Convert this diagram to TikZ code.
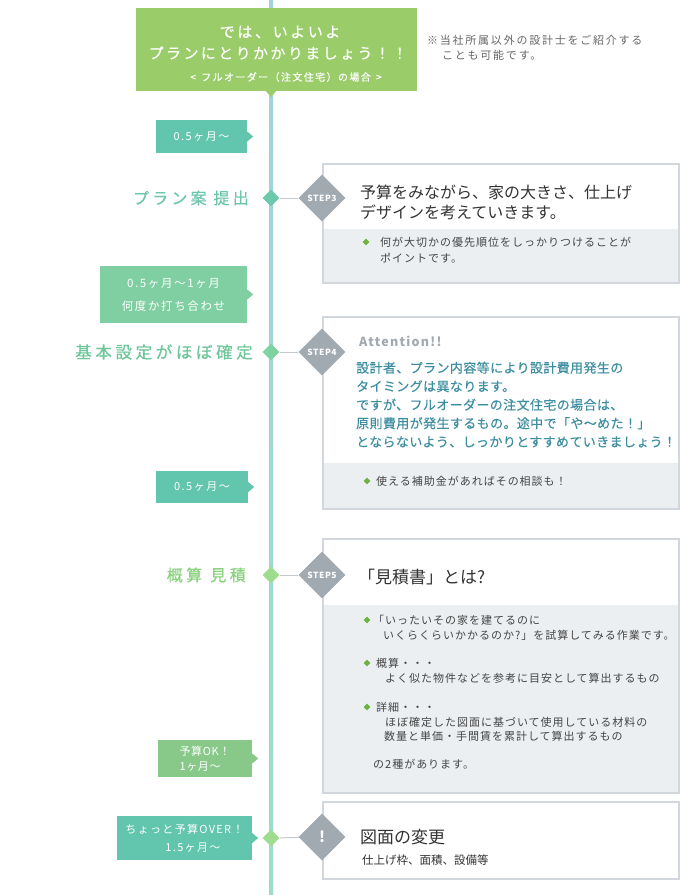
\documentclass[tikz,border=0pt]{standalone}
\usepackage{fontspec}
\setmainfont{Noto Sans CJK JP}
\usetikzlibrary{shapes.geometric}
\definecolor{hdrgreen}{HTML}{9ACD6A}
\definecolor{tagteal}{HTML}{62C5AD}
\definecolor{taggreen}{HTML}{80CFA2}
\definecolor{tagok}{HTML}{88C98A}
\definecolor{lblteal}{HTML}{6CC6AA}
\definecolor{lblgreen}{HTML}{6DC799}
\definecolor{lbllight}{HTML}{8AD27E}
\definecolor{dteal}{HTML}{6CC9AB}
\definecolor{dgreen}{HTML}{7FD3A0}
\definecolor{dlight}{HTML}{9EDC8F}
\definecolor{stepgray}{HTML}{A1A9B1}
\definecolor{boxgray}{HTML}{D2D7DD}
\definecolor{boxfill}{HTML}{ECEFF2}
\definecolor{conngray}{HTML}{C5CAD0}
\definecolor{attcol}{HTML}{3D8EA0}
\definecolor{darktext}{HTML}{333333}
\definecolor{bodytext}{HTML}{444444}
\definecolor{notetext}{HTML}{666666}
\definecolor{bulgreen}{HTML}{6CB43F}
\definecolor{lineblue}{HTML}{A3D3DE}
\definecolor{linegreen}{HTML}{A0DCC5}
\tikzset{
  lbl/.style={anchor=east, inner sep=0},
  tagbox/.style={inner sep=0, text=white, align=center},
  tagfont/.style={font=\fontsize{11}{14}\selectfont\addfontfeature{LetterSpace=14}},
  tdia/.style={diamond, inner sep=0, minimum width=17, minimum height=17},
  sdia/.style={diamond, inner sep=0, minimum width=47, minimum height=47, fill=stepgray,
     label={[text=white, font=\bfseries\fontsize{8.5}{10}\selectfont\addfontfeature{LetterSpace=6}]center:#1}},
  bul/.style={diamond, inner sep=0, minimum width=7, minimum height=7, fill=bulgreen},
  conn/.style={draw=conngray, line width=1},
  boxline/.style={draw=boxgray, line width=2, inner sep=0, anchor=north west},
  txt/.style={anchor=west, inner sep=0},
  big/.style={font=\fontsize{16}{20}\selectfont, text=darktext},
  small/.style={font=\fontsize{11}{14}\selectfont\addfontfeature{LetterSpace=9}, text=bodytext},
}
\begin{document}
\begin{tikzpicture}[x=1pt,y=-1pt]
\useasboundingbox (0,0) rectangle (680,895);
\fill[white] (0,0) rectangle (680,895);
% timeline
\coordinate (tltop) at (269,0);
\coordinate (tlbot) at (273,895);
\fill[top color=lineblue, bottom color=linegreen] (tltop) rectangle (tlbot);

% header
\node[fill=hdrgreen, minimum width=281, minimum height=83, inner sep=0] (hdr) at (276.5,49.5) {};
\fill[hdrgreen] (265,90) -- (277,90) -- (271,97) -- cycle;
\node[text=white, inner sep=0, font=\fontsize{15}{18}\selectfont\addfontfeature{LetterSpace=18,FakeBold=0.4}] (h1) at (280,32) {では、いよいよ};
\node[text=white, inner sep=0, font=\fontsize{15}{18}\selectfont\addfontfeature{LetterSpace=16,FakeBold=0.4}] (h2) at (278,53) {プランにとりかかりましょう！！};
\node[text=white, inner sep=0, font=\fontsize{10}{12}\selectfont\addfontfeature{LetterSpace=14,FakeBold=0.3}] (h3) at (286,77) {<\, フルオーダー（注文住宅）の場合 \,>};

% note
\node[txt, text=notetext, font=\fontsize{11}{14}\selectfont\addfontfeature{LetterSpace=16}] (n1) at (427,40) {※当社所属以外の設計士をご紹介する};
\node[txt, text=notetext, font=\fontsize{11}{14}\selectfont\addfontfeature{LetterSpace=16}] (n2) at (442,55) {ことも可能です。};

% tags
\node[tagbox, tagfont, fill=tagteal, minimum width=91, minimum height=33] (t1) at (201.5,136.5) {0.5ヶ月～};
\fill[tagteal] (t1.east) ++(0,-5) -- ++(6,5) -- ++(-6,5) -- cycle;
\node[tagbox, fill=taggreen, minimum width=147, minimum height=57, font=\fontsize{11.5}{23}\selectfont\addfontfeature{LetterSpace=14}] (t2) at (173.5,294.5) {0.5ヶ月～1ヶ月\\何度か打ち合わせ};
\fill[taggreen] (t2.east) ++(0,-5) -- ++(6,5) -- ++(-6,5) -- cycle;
\node[tagbox, tagfont, fill=tagteal, minimum width=92, minimum height=32] (t3) at (202,487) {0.5ヶ月～};
\fill[tagteal] (t3.east) ++(0,-5) -- ++(6,5) -- ++(-6,5) -- cycle;
\node[tagbox, align=left, fill=tagok, minimum width=94, minimum height=37, font=\fontsize{11}{15}\selectfont\addfontfeature{LetterSpace=6}] (t4) at (205,758.5) {予算OK！\\1ヶ月～};
\fill[tagok] (t4.east) ++(0,-5) -- ++(6,5) -- ++(-6,5) -- cycle;
\node[tagbox, align=left, fill=tagteal, minimum width=135, minimum height=44, font=\fontsize{11}{18}\selectfont\addfontfeature{LetterSpace=12}] (t5) at (184.5,838) {ちょっと予算OVER！\\\hspace*{40pt}1.5ヶ月～};
\fill[tagteal] (t5.east) ++(0,-5) -- ++(6,5) -- ++(-6,5) -- cycle;

% labels
\node[lbl, text=lblteal, font=\fontsize{16}{19}\selectfont\addfontfeature{LetterSpace=20,FakeBold=0.5}] (l3) at (249,198) {プラン案\hspace{7pt}提出};
\node[lbl, text=lblgreen, font=\fontsize{16.5}{19}\selectfont\addfontfeature{LetterSpace=22,FakeBold=0.5}] (l4) at (253,352) {基本設定がほぼ確定};
\node[lbl, text=lbllight, font=\fontsize{16}{19}\selectfont\addfontfeature{LetterSpace=22,FakeBold=0.5}] (l5) at (246,575) {概算\hspace{8pt}見積};

% step 3 box
\fill[boxfill] (322,229) rectangle (678,282);
\node[boxline, minimum width=356, minimum height=119] (b3) at (322,163) {};
% step 4 box
\fill[boxfill] (322,463) rectangle (678,508);
\node[boxline, minimum width=356, minimum height=192] (b4) at (322,316) {};
% step 5 box
\fill[boxfill] (322,605) rectangle (678,792);
\node[boxline, minimum width=356, minimum height=254] (b5) at (322,538) {};
% change box
\node[boxline, minimum width=356, minimum height=77] (b6) at (322,801) {};

% timeline diamonds and step diamonds
\node[tdia, fill=dteal] (d3) at (271,198) {};
\node[tdia, fill=dgreen] (d4) at (271,352) {};
\node[tdia, fill=dlight] (d5) at (271,575) {};
\node[tdia, fill=dlight] (d6) at (271,838) {};
\node[sdia=STEP3] (s3) at (322,198) {};
\node[sdia=STEP4] (s4) at (322,352) {};
\node[sdia=STEP5] (s5) at (322,575) {};
\node[diamond, inner sep=0, minimum width=47, minimum height=47, fill=stepgray,
  label={[text=white, font=\bfseries\fontsize{15}{18}\selectfont]center:!}] (s6) at (322,837) {};
\draw[conn] (d3) -- (s3);
\draw[conn] (d4) -- (s4);
\draw[conn] (d5) -- (s5);
\draw[conn] (d6) -- (s6);

% step 3 text
\node[txt, big] (s3a) at (360,192) {予算をみながら、家の大きさ、仕上げ};
\node[txt, big] (s3b) at (360,212) {デザインを考えていきます。};
\node[bul] (bu1) at (366,242) {};
\node[txt, small] (s3c) at (380,242) {何が大切かの優先順位をしっかりつけることが};
\node[txt, small] (s3d) at (380,258) {ポイントです。};

% step 4 text
\node[txt, text=stepgray, font=\bfseries\fontsize{12.5}{14}\selectfont\addfontfeature{LetterSpace=10}] (att) at (359,341) {Attention!!};
\node[anchor=north west, inner sep=0, align=left, text=attcol, font=\fontsize{13}{18.5}\selectfont\addfontfeature{LetterSpace=3,FakeBold=0.2}] (s4p) at (356,361.5)
 {設計者、プラン内容等により設計費用発生の\\タイミングは異なります。\\ですが、フルオーダーの注文住宅の場合は、\\原則費用が発生するもの。途中で「や～めた！」\\とならないよう、しっかりとすすめていきましょう！};
\node[bul] (bu2) at (367,481) {};
\node[txt, small] (s4b) at (376,481) {使える補助金があればその相談も！};

% step 5 text
\node[txt, font=\fontsize{17}{20}\selectfont, text=darktext] (s5t) at (358,577) {「見積書」とは?};
\node[bul] (bu3) at (367,620) {};
\node[txt, small] (s5a) at (373,620) {「いったいその家を建てるのに};
\node[txt, small] (s5b) at (383,635) {いくらくらいかかるのか?」を試算してみる作業です。};
\node[bul] (bu4) at (367,663) {};
\node[txt, small] (s5c) at (376,663) {概算・・・};
\node[txt, small] (s5d) at (385,678) {よく似た物件などを参考に目安として算出するもの};
\node[bul] (bu5) at (367,707) {};
\node[txt, small] (s5e) at (376,707) {詳細・・・};
\node[txt, small] (s5f) at (385,722) {ほぼ確定した図面に基づいて使用している材料の};
\node[txt, small] (s5g) at (384,736) {数量と単価・手間賃を累計して算出するもの};
\node[txt, small] (s5h) at (373,764) {の2種があります。};

% change text
\node[txt, font=\fontsize{17}{20}\selectfont, text=darktext] (s6a) at (360,837) {図面の変更};
\node[txt, font=\fontsize{11.5}{14}\selectfont, text=darktext] (s6b) at (362,860) {仕上げ枠、面積、設備等};
\end{tikzpicture}
\end{document}
